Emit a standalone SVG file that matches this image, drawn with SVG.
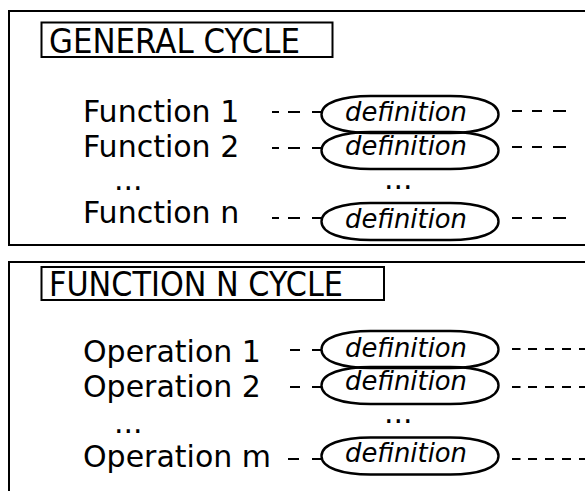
<svg xmlns="http://www.w3.org/2000/svg" xmlns:xlink="http://www.w3.org/1999/xlink" width="585" height="491" viewBox="0 0 585 491">
  <style>
    .box { fill: none; stroke: #000; stroke-width: 2; }
    .title { font-family: "DejaVu Sans", Verdana, sans-serif; font-size: 33px; fill: #000; }
    .label { font-family: "DejaVu Sans", Verdana, sans-serif; font-size: 30px; fill: #000; }
    .def { font-family: "DejaVu Sans", Verdana, sans-serif; font-size: 26px; font-style: italic; fill: #000; }
    .oval { fill: none; stroke: #000; stroke-width: 2.4; }
    .dash { fill: none; stroke: #000; stroke-width: 2; }
  </style>
  <defs>
    <path id="oval" d="M -89,0 C -89,-12 -68,-18.5 -40,-18.5 L 40,-18.5 C 68,-18.5 88,-12 88,0 C 88,12 68,18.5 40,18.5 L -40,18.5 C -68,18.5 -89,12 -89,0 Z"/>
  </defs>
  <rect width="585" height="491" fill="#fff"/>

  <g id="panel-general">
    <rect class="box" x="9" y="11" width="600" height="234"/>
  </g>
  <g id="title-general">
    <rect class="box" x="41.5" y="22.5" width="291" height="34.5"/>
    <text class="title" x="49" y="53" textLength="251" lengthAdjust="spacingAndGlyphs">GENERAL CYCLE</text>
  </g>

  <g id="function-1">
    <text class="label" x="83" y="121.5">Function 1</text>
  </g>
  <g id="function-2">
    <text class="label" x="83" y="157">Function 2</text>
  </g>
  <g id="function-dots">
    <text class="label" x="114" y="190">...</text>
  </g>
  <g id="function-n">
    <text class="label" x="83" y="223">Function n</text>
  </g>

  <g id="def-f1">
    <use xlink:href="#oval" class="oval" transform="translate(410.5,114.5)"/>
    <text class="def" x="345" y="121" textLength="122" lengthAdjust="spacingAndGlyphs">definition</text>
  </g>
  <g id="def-f2">
    <use xlink:href="#oval" class="oval" transform="translate(410.5,150.5)"/>
    <text class="def" x="345" y="155" textLength="122" lengthAdjust="spacingAndGlyphs">definition</text>
  </g>
  <g id="def-dots-1">
    <text class="label" x="384" y="189">...</text>
  </g>
  <g id="def-fn">
    <use xlink:href="#oval" class="oval" transform="translate(410.5,221.5)"/>
    <text class="def" x="345" y="228" textLength="122" lengthAdjust="spacingAndGlyphs">definition</text>
  </g>

  <g id="panel-function-n">
    <rect class="box" x="9" y="262" width="600" height="260"/>
  </g>
  <g id="title-function-n">
    <rect class="box" x="41.5" y="267" width="342.5" height="33"/>
    <text class="title" x="49" y="295.5" textLength="294" lengthAdjust="spacingAndGlyphs">FUNCTION N CYCLE</text>
  </g>

  <g id="operation-1">
    <text class="label" x="83" y="362">Operation 1</text>
  </g>
  <g id="operation-2">
    <text class="label" x="83" y="397">Operation 2</text>
  </g>
  <g id="operation-dots">
    <text class="label" x="114" y="433">...</text>
  </g>
  <g id="operation-m">
    <text class="label" x="83" y="467">Operation m</text>
  </g>

  <g id="def-o1">
    <use xlink:href="#oval" class="oval" transform="translate(410.5,349.5)"/>
    <text class="def" x="345" y="357" textLength="122" lengthAdjust="spacingAndGlyphs">definition</text>
  </g>
  <g id="def-o2">
    <use xlink:href="#oval" class="oval" transform="translate(410.5,385.5)"/>
    <text class="def" x="345" y="390" textLength="122" lengthAdjust="spacingAndGlyphs">definition</text>
  </g>
  <g id="def-dots-2">
    <text class="label" x="384" y="423">...</text>
  </g>
  <g id="def-om">
    <use xlink:href="#oval" class="oval" transform="translate(410.5,456)"/>
    <text class="def" x="345" y="462" textLength="122" lengthAdjust="spacingAndGlyphs">definition</text>
  </g>

  <g id="connectors">
    <path class="dash" d="M272,112 h7 M288,112 h12 M312,112 h10"/>
    <path class="dash" d="M272,148 h7 M288,148 h12 M312,148 h10"/>
    <path class="dash" d="M272,218 h7 M288,218 h12 M312,218 h10"/>
    <path class="dash" d="M512,111 h10 M532,111 h10 M553,111 h13"/>
    <path class="dash" d="M512,147 h10 M532,147 h10 M553,147 h13"/>
    <path class="dash" d="M512,218 h10 M532,218 h10 M553,218 h13"/>

    <path class="dash" d="M290,350 h10 M312,350 h10"/>
    <path class="dash" d="M290,387 h10 M312,387 h10"/>
    <path class="dash" d="M288,459 h11 M312,459 h10"/>
    <path class="dash" d="M512,349 h8.5 M528,349 h9 M545,349 h9 M562,349 h9 M579,349 h8"/>
    <path class="dash" d="M512,387 h8.5 M528,387 h9 M545,387 h9 M562,387 h9 M579,387 h8"/>
    <path class="dash" d="M512,459 h8.5 M528,459 h9 M545,459 h9 M562,459 h9 M579,459 h8"/>
  </g>
</svg>
